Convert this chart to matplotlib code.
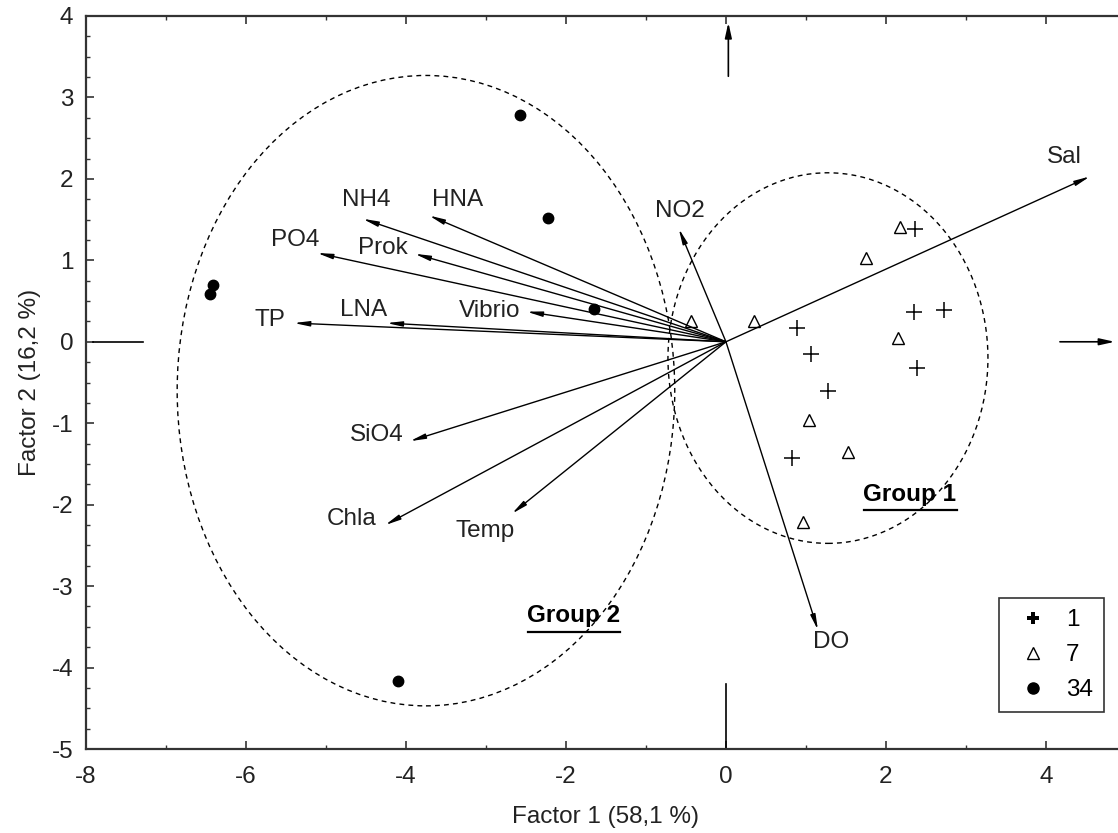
import matplotlib
matplotlib.use("Agg")
import matplotlib.pyplot as plt
from matplotlib.patches import Ellipse
from matplotlib.ticker import MultipleLocator

plt.rcParams['font.family'] = ['Liberation Sans', 'DejaVu Sans']
plt.rcParams['axes.unicode_minus'] = False

# Sample scores
plus_x = [2.36, 2.35, 2.725, 2.39, 0.89, 1.06, 1.275, 0.825]
plus_y = [1.38, 0.36, 0.39, -0.32, 0.17, -0.15, -0.61, -1.43]
tri_x = [-0.44, 0.35, 1.75, 2.175, 2.15, 1.04, 1.525, 0.96]
tri_y = [0.25, 0.26, 1.03, 1.41, 0.05, -0.96, -1.35, -2.21]
dot_x = [-2.575, -2.225, -1.65, -6.41, -6.45, -4.1]
dot_y = [2.79, 1.52, 0.405, 0.70, 0.59, -4.16]

# Variable loadings (arrow tips) and their labels
var_names = ["Sal", "NO2", "DO", "HNA", "NH4", "Prok", "PO4", "Vibrio",
             "LNA", "TP", "SiO4", "Chla", "Temp"]
var_x = [4.55, -0.59, 1.15, -3.71, -4.54, -3.89, -5.11, -2.49,
         -4.24, -5.4, -3.95, -4.26, -2.675]
var_y = [2.03, 1.39, -3.54, 1.55, 1.51, 1.08, 1.09, 0.37,
         0.23, 0.23, -1.22, -2.25, -2.11]
lab_x = [4.225, -0.575, 1.31, -3.35, -4.5, -4.29, -5.39, -2.95,
         -4.525, -5.7, -4.36, -4.675, -3.01]
lab_y = [2.27, 1.61, -3.69, 1.74, 1.74, 1.15, 1.25, 0.38,
         0.39, 0.27, -1.15, -2.17, -2.32]

FS = 17.5

fig = plt.figure(figsize=(11.18, 8.33), dpi=100)
ax = fig.add_axes([0.0769, 0.1008, 0.9302, 0.8800])
ax.set_xlim(-8, 5)
ax.set_ylim(-5, 4)

for s in ax.spines.values():
    s.set_linewidth(1.6)
    s.set_color('#333333')

ax.xaxis.set_major_locator(MultipleLocator(2))
ax.xaxis.set_minor_locator(MultipleLocator(1))
ax.yaxis.set_major_locator(MultipleLocator(1))
ax.yaxis.set_minor_locator(MultipleLocator(0.25))
ax.tick_params(which='both', direction='in', top=True, right=False,
               labelsize=FS, color='#333333', labelcolor='#222222')
ax.tick_params(which='major', length=6, width=1.2, pad=9)
ax.tick_params(axis='x', which='major', pad=12)
ax.tick_params(which='minor', length=3, width=1.0)
ax.set_xlabel("Factor 1 (58,1 %)", fontsize=FS, labelpad=13, color='#222222')
ax.set_ylabel("Factor 2 (16,2 %)", fontsize=FS, labelpad=8, color='#222222')

# Group ellipses
ax.add_patch(Ellipse((1.275, -0.2), 4.0, 4.55, fill=False, ls=(0, (3.5, 3)),
                     lw=1.0, color='black'))
ax.add_patch(Ellipse((-3.75, -0.6), 6.22, 7.74, fill=False, ls=(0, (3.5, 3)),
                     lw=1.0, color='black'))

# Loading arrows
for name, vx, vy, lx, ly in zip(var_names, var_x, var_y, lab_x, lab_y):
    ax.annotate("", xy=(vx, vy), xytext=(0, 0),
                arrowprops=dict(arrowstyle='-|>,head_length=0.9,head_width=0.15',
                                color='black', lw=1.0, shrinkA=0, shrinkB=0))
    ax.text(lx, ly, name, fontsize=FS, ha='center', va='center',
            color='#222222')

# Scaled-axis markers
ax.annotate("", xy=(0.03, 3.92), xytext=(0.03, 3.26),
            arrowprops=dict(arrowstyle='-|>,head_length=0.9,head_width=0.2',
                            color='black', lw=1.2, shrinkA=0, shrinkB=0))
ax.annotate("", xy=(4.86, 0), xytext=(4.175, 0),
            arrowprops=dict(arrowstyle='-|>,head_length=0.9,head_width=0.2',
                            color='black', lw=1.2, shrinkA=0, shrinkB=0))
ax.plot([0, 0], [-4.2, -5], color='black', lw=1.2)
ax.plot([-7.91, -7.29], [0, 0], color='black', lw=1.2)

# Samples
ax.plot(plus_x, plus_y, ls='none', marker='+', ms=11, mew=1.1, color='black')
ax.plot(tri_x, tri_y, ls='none', marker='^', ms=8.5, mew=1.0, mfc='white',
        mec='black')
ax.plot(dot_x, dot_y, ls='none', marker='o', ms=7.5, color='black')

# Group labels
ax.text(2.3, -1.87, "Group 1", fontsize=FS, fontweight='bold', ha='center',
        va='center')
ax.plot([1.73, 2.89], [-2.07, -2.07], color='black', lw=1.6)
ax.text(-1.91, -3.36, "Group 2", fontsize=FS, fontweight='bold', ha='center',
        va='center')
ax.plot([-2.48, -1.32], [-3.56, -3.56], color='black', lw=1.6)

# Legend
h1, = ax.plot([], [], ls='none', marker='P', ms=9, color='black', mew=0)
h2, = ax.plot([], [], ls='none', marker='^', ms=9, mfc='white', mec='black')
h3, = ax.plot([], [], ls='none', marker='o', ms=8, color='black')
leg = ax.legend([h1, h2, h3], ["1", "7", "34"], loc='upper left',
                bbox_to_anchor=(0.878, 0.2055), fontsize=FS, frameon=True,
                fancybox=False, edgecolor='black', handletextpad=0.4,
                borderpad=0.45, labelspacing=0.53, handlelength=1.9,
                borderaxespad=0)
leg.get_frame().set_linewidth(1.2)

fig.savefig("out.png", dpi=100)
